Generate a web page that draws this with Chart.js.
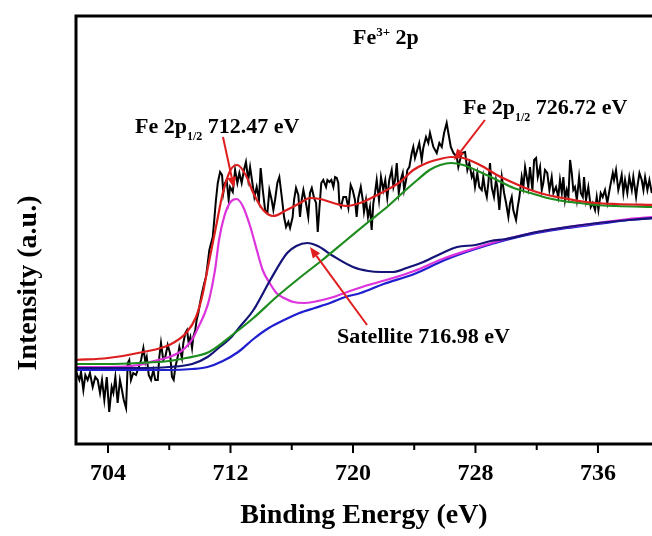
<!DOCTYPE html>
<html>
<head>
<meta charset="utf-8">
<title>Fe3+ 2p XPS</title>
<script src="https://cdn.jsdelivr.net/npm/chart.js@4.4.0/dist/chart.umd.min.js"></script>
<style>
  html, body { margin: 0; padding: 0; background: #fff; }
  #wrap { width: 652px; height: 536px; }
</style>
</head>
<body>
<div id="wrap"><canvas id="xps" width="652" height="536"></canvas></div>
<script>
'use strict'

// raw spectrum (binding energy / intensity, a.u.)
const rawE = [
  701.92,702.13,702.24,702.39,702.52,702.67,702.82,703.00,703.17,703.33,
  703.48,703.61,703.76,703.92,704.08,704.24,704.35,704.48,704.63,704.78,
  704.91,705.03,705.18,705.29,705.39,705.50,705.65,705.83,706.01,706.16,
  706.31,706.44,706.53,706.66,706.81,706.96,707.09,707.25,707.35,707.46,
  707.61,707.74,707.90,708.05,708.18,708.29,708.40,708.55,708.66,708.83,
  708.92,709.05,709.16,709.27,709.38,709.49,709.57,709.70,709.79,709.90,
  710.01,710.14,710.29,710.40,710.62,710.84,710.94,711.05,711.17,711.32,
  711.45,711.53,711.64,711.75,711.88,711.97,
  712.15,712.30,712.45,712.58,712.73,712.88,713.01,713.16,713.28,713.43,
  713.56,713.71,713.86,713.97,714.11,714.26,714.41,714.54,714.69,714.80,
  714.91,715.06,715.19,715.35,715.50,715.63,715.78,715.89,716.06,716.15,
  716.28,716.43,716.54,716.65,716.76,716.93,717.08,717.19,717.31,717.46,
  717.59,717.70,717.80,717.93,718.06,718.24,718.33,718.46,718.59,718.72,
  718.83,718.94,719.04,719.11,719.22,719.37,719.55,719.70,719.85,719.98,
  720.13,720.24,720.35,720.51,720.64,720.72,720.85,720.98,721.11,721.22,
  721.33,721.44,721.55,721.70,721.83,721.98,722.11,722.24,722.37,722.53,
  722.64,722.75,722.86,722.99,723.12,723.25,723.34,723.47,723.55,723.68,
  723.84,723.94,724.05,724.20,724.33,724.49,724.59,724.77,724.92,725.03,
  725.25,725.47,725.64,725.80,725.95,726.12,726.23,726.39,726.56,726.78,
  726.88,727.10,727.32,727.47,727.60,727.76,727.86,727.97,728.12,728.25,
  728.41,728.51,728.63,728.74,728.84,728.95,729.06,729.21,729.34,729.43,
  729.56,729.72,729.87,730.00,730.15,730.26,730.37,730.47,730.65,730.76,
  730.87,731.02,731.13,731.24,731.35,731.45,731.56,731.72,731.83,731.96,
  732.07,732.22,732.33,732.43,732.54,732.69,732.83,732.98,733.09,733.26,
  733.41,733.52,733.64,733.74,733.85,733.96,734.07,734.18,734.29,734.39,
  734.50,734.62,734.77,734.88,735.01,735.09,735.22,735.37,735.53,735.66,
  735.81,735.92,736.03,736.18,736.31,736.46,736.61,736.79,736.97,737.05,
  737.18,737.33,737.44,737.55,737.66,737.77,737.92,738.05,738.21,738.31,
  738.49,738.57,738.71,738.86,738.97,739.08,739.23,739.36,739.52
];
const rawI = [
  72,64,72,54,69,64,71,57,67,64,
  51,64,44,67,32,57,51,67,41,64,
  54,44,36,81,84,64,71,69,77,84,
  96,82,87,69,64,74,64,64,87,101,
  84,87,99,91,67,64,77,87,97,86,
  101,111,114,101,107,96,107,114,124,131,
  141,151,161,167,194,207,224,244,261,272,
  269,251,261,264,244,257,
  252,274,261,271,261,274,282,264,277,261,
  247,257,244,276,254,234,231,254,244,234,
  244,261,267,247,227,217,222,216,227,244,
  256,249,227,244,254,241,227,251,256,246,
  241,212,234,261,264,257,264,262,264,257,
  267,266,261,241,237,247,247,236,259,254,
  244,227,246,257,244,232,244,227,237,214,
  241,251,264,244,267,254,264,246,264,274,
  257,264,281,251,264,271,254,264,274,277,
  291,297,286,294,301,284,296,307,301,311,
  297,291,301,297,311,321,311,297,291,287,
  277,291,292,274,281,267,271,257,271,257,
  254,267,254,247,261,281,257,247,264,257,
  234,267,251,241,227,241,247,234,224,237,
  247,267,257,277,267,257,277,254,284,286,
  267,277,254,261,274,271,254,267,251,257,
  247,264,251,267,244,254,247,284,271,254,
  257,244,267,251,247,267,244,257,237,241,
  234,247,234,251,247,254,241,257,271,264,
  274,254,261,269,251,264,251,267,254,267,
  247,257,271,264,254,267,254,264,251
];

// fitted components
const envE = [701.9,704,706.3,708,709.1,709.75,710.2,710.4,711.05,711.5,712.0,712.45,713.06,713.49,714.14,714.8,715.67,716.54,717.19,717.85,718.72,719.59,720.46,721.33,722.21,723.07,723.94,724.82,725.69,726.4,727.2,728.3,729.4,730.5,731.6,732.7,733.7,734.8,735.9,737.2,739.6];
const envI = [84,86,92,99,111,127,151,167,217,251,274,279,267,251,234,228,234,241,246,245,241,238,241,247,254,262,274,281,285,287,286,279,269,261,254,249,246,243,241,240,239];

const p12E = [701.9,704,706,708,709.1,710.6,712.2,713.5,715,716.5,718,719.5,721,722.3,723.3,724.2,725.0,725.7,726.4,727.2,728.3,729.4,730.5,731.6,732.7,733.7,734.8,735.9,737.2,739.6];
const p12I = [80,80,81,83,86,92,110,126,147,166,184,203,222,238,252,264,274,279,281,279,272,264,256,251,246,243,241,239,238,237];

const satE = [701.9,706,708,709.5,710.5,711.3,712,712.6,713.5,714.6,715.7,716.3,717.0,717.7,718.7,720.0,721.0,721.8,722.6,723.5,724.6,725.7,726.8,728,729,730,732,734,736,738,739.6];
const satI = [76,76,77,80,87,97,106,117,134,164,191,198,201,198,188,177,173,172,172,176,182,190,197,199,203,205,212,217,221,224,226];

const p32E = [701.9,704,706,707,708,708.7,709.1,709.6,709.9,710.3,710.6,711.0,711.25,711.6,712.0,712.4,712.8,713.3,713.7,714.1,714.6,715.0,715.5,716.1,716.8,717.4,718.5,720.0,721,722.4,724,726,728,730,732,734,736,738,739.6];
const p32I = [77,77,79,83,87,92,97,107,117,130,144,175,204,228,242,245,238,217,195,174,160,151,146,142,141,142,146,154,159,165,173,186,196,205,212,217,221,225,227];

const bgE = [701.9,704,706,708,709.5,710.5,711.5,712.5,713.5,714.5,715.5,716.5,717.5,718.5,719.5,720.5,722,724,726,728,730,732,734,736,738,739.6];
const bgI = [74,74,74,74,75,77,83,92,105,116,124,131,136,141,147,151,160,170,184,195,204,211,216,220,224,226];

const majorTicks = [704, 712, 720, 728, 736];
const minorTicks = [708, 716, 724, 732];

const SERIF = '"Liberation Serif", "Times New Roman", serif';

// labels / arrows, in data coordinates
const notes = [
  { x: 720.0, y: 400, parts: [['Fe', 0], ['3+', 2], [' 2p', 0]] },
  { x: 705.76, y: 311, parts: [['Fe 2p', 0], ['1/2', 1], [' 712.47 eV', 0]] },
  { x: 727.19, y: 330, parts: [['Fe 2p', 0], ['1/2', 1], [' 726.72 eV', 0]] },
  { x: 718.96, y: 101, parts: [['Satellite 716.98 eV', 0]] }
];
const arrows = [
  { from: [711.51, 307], to: [712.23, 256] },
  { from: [728.62, 324], to: [726.60, 284] },
  { from: [720.92, 119], to: [717.19, 197] }
];

function toPoints(xs, ys) {
  return xs.map((x, i) => ({ x: x, y: ys[i] }));
}

function curve(label, xs, ys, color) {
  return {
    label: label,
    data: toPoints(xs, ys),
    borderColor: color,
    borderWidth: 2.2,
    pointRadius: 0,
    cubicInterpolationMode: 'monotone',
    fill: false
  };
}

function drawParts(ctx, x, y, parts) {
  let cx = x;
  parts.forEach(([t, mode]) => {
    let size = 22, dy = 0;
    if (mode === 1) { size = 12; dy = 7; }
    if (mode === 2) { size = 13; dy = -8; }
    ctx.font = 'bold ' + size + 'px ' + SERIF;
    ctx.fillText(t, cx, y + dy);
    cx += ctx.measureText(t).width;
  });
}

function drawArrow(ctx, x1, y1, x2, y2) {
  const ang = Math.atan2(y2 - y1, x2 - x1);
  const len = 11, half = 4.5;
  const bx = x2 - len * Math.cos(ang), by = y2 - len * Math.sin(ang);
  ctx.beginPath();
  ctx.moveTo(x1, y1);
  ctx.lineTo(bx, by);
  ctx.stroke();
  ctx.beginPath();
  ctx.moveTo(x2, y2);
  ctx.lineTo(bx + half * Math.sin(ang), by - half * Math.cos(ang));
  ctx.lineTo(bx - half * Math.sin(ang), by + half * Math.cos(ang));
  ctx.closePath();
  ctx.fill();
}

const overlay = {
  id: 'overlay',
  afterDraw(chart) {
    const ctx = chart.ctx;
    const a = chart.chartArea;
    const xs = chart.scales.x, ys = chart.scales.y;
    ctx.save();

    // frame (right side falls outside the picture)
    ctx.strokeStyle = '#000';
    ctx.lineWidth = 3;
    ctx.beginPath();
    ctx.moveTo(a.right + 3, a.top);
    ctx.lineTo(a.left, a.top);
    ctx.lineTo(a.left, a.bottom);
    ctx.lineTo(a.right + 3, a.bottom);
    ctx.stroke();

    // tick marks
    ctx.lineWidth = 2;
    majorTicks.forEach(v => {
      const px = xs.getPixelForValue(v);
      ctx.beginPath(); ctx.moveTo(px, a.bottom); ctx.lineTo(px, a.bottom + 9); ctx.stroke();
    });
    minorTicks.forEach(v => {
      const px = xs.getPixelForValue(v);
      ctx.beginPath(); ctx.moveTo(px, a.bottom); ctx.lineTo(px, a.bottom + 6); ctx.stroke();
    });

    // y title
    ctx.save();
    ctx.translate(36, 283);
    ctx.rotate(-Math.PI / 2);
    ctx.fillStyle = '#000';
    ctx.textAlign = 'center';
    ctx.textBaseline = 'alphabetic';
    ctx.font = 'bold 28px ' + SERIF;
    ctx.fillText('Intensity (a.u.)', 0, 0);
    ctx.restore();

    // arrows
    ctx.strokeStyle = '#e01e1e';
    ctx.fillStyle = '#e01e1e';
    ctx.lineWidth = 2;
    arrows.forEach(ar => {
      drawArrow(ctx,
        xs.getPixelForValue(ar.from[0]), ys.getPixelForValue(ar.from[1]),
        xs.getPixelForValue(ar.to[0]), ys.getPixelForValue(ar.to[1]));
    });

    // labels
    ctx.fillStyle = '#000';
    ctx.textAlign = 'left';
    ctx.textBaseline = 'alphabetic';
    notes.forEach(n => {
      drawParts(ctx, xs.getPixelForValue(n.x), ys.getPixelForValue(n.y), n.parts);
    });

    ctx.restore();
  }
};

Chart.defaults.font.family = SERIF;
Chart.defaults.color = '#000';

const rawSet = {
  label: 'raw',
  data: toPoints(rawE, rawI),
  borderColor: '#000',
  borderWidth: 2,
  pointRadius: 0,
  tension: 0,
  fill: false
};

new Chart(document.getElementById('xps'), {
  type: 'line',
  data: {
    datasets: [
      curve('envelope', envE, envI, '#dc1e1e'),
      curve('Fe 2p1/2', p12E, p12I, '#1e8c1e'),
      curve('satellite', satE, satI, '#141478'),
      curve('Fe 2p3/2', p32E, p32I, '#dd33dd'),
      curve('background', bgE, bgI, '#1f1fd0'),
      rawSet
    ]
  },
  options: {
    responsive: false,
    animation: false,
    devicePixelRatio: 1,
    layout: { padding: { left: 76, top: 16, right: 0, bottom: 0 } },
    plugins: {
      legend: { display: false },
      tooltip: { enabled: false }
    },
    scales: {
      x: {
        type: 'linear',
        min: 701.91,
        max: 739.53,
        afterBuildTicks: s => { s.ticks = majorTicks.map(v => ({ value: v })); },
        afterFit: s => { s.height = 92; },
        grid: { display: false, drawTicks: false },
        border: { display: false },
        ticks: {
          padding: 15,
          maxRotation: 0,
          autoSkip: false,
          font: { size: 24, weight: 'bold' },
          color: '#000'
        },
        title: {
          display: true,
          text: 'Binding Energy (eV)',
          font: { size: 28, weight: 'bold' },
          color: '#000',
          padding: { top: 0, bottom: 3 }
        }
      },
      y: {
        type: 'linear',
        display: false,
        min: 0,
        max: 428
      }
    }
  },
  plugins: [overlay]
});
</script>
</body>
</html>
